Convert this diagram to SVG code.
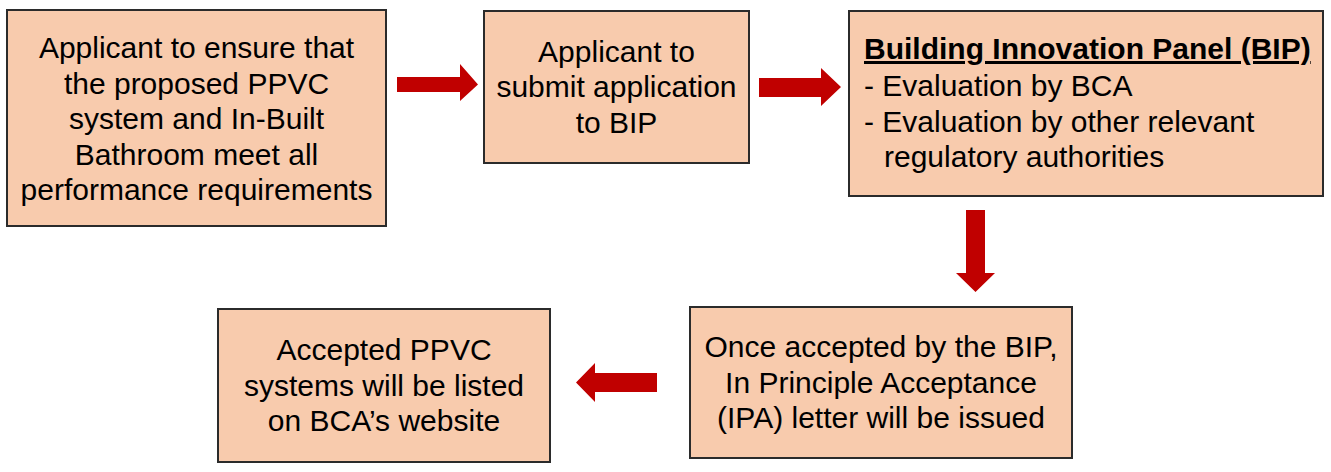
<svg xmlns="http://www.w3.org/2000/svg" width="1331" height="472" viewBox="0 0 1331 472">
<style>
.box{fill:#F8CBAD;stroke:#2b2b2b;stroke-width:2}
.t{font-family:"Liberation Sans",Arial,sans-serif;font-size:30px;fill:#000}
.c{text-anchor:middle}
.b{font-weight:bold;text-decoration:underline}
.arr{fill:#C00000}
</style>
<rect width="1331" height="472" fill="#fff"/>
<g id="connectors">
<polygon class="arr" points="397,77 460,77 460,64 478,84.5 460,101 460,92 397,92"/>
<polygon class="arr" points="759,78 821,78 821,68 841,87 821,106 821,97 759,97"/>
<polygon class="arr" points="966,210 985,210 985,273 995,273 975.5,292 956,273 966,273"/>
<polygon class="arr" points="657,373 595,373 595,363 576,382.5 595,402 595,392 657,392"/>
</g>
<g id="node1">
<rect class="box" x="7" y="10" width="379" height="216"/>
<text class="t c" x="196.5" y="58">Applicant to ensure that</text>
<text class="t c" x="196.5" y="94">the proposed PPVC</text>
<text class="t c" x="196.5" y="129">system and In-Built</text>
<text class="t c" x="196.5" y="165">Bathroom meet all</text>
<text class="t c" x="196.5" y="200">performance requirements</text>
</g>
<g id="node2">
<rect class="box" x="484" y="11" width="265" height="152"/>
<text class="t c" x="616.5" y="62">Applicant to</text>
<text class="t c" x="616.5" y="97">submit application</text>
<text class="t c" x="616.5" y="133">to BIP</text>
</g>
<g id="node3">
<rect class="box" x="849" y="11" width="474" height="185"/>
<text class="t b" x="864" y="59">Building Innovation Panel (BIP)</text>
<text class="t" x="864" y="96">- Evaluation by BCA</text>
<text class="t" x="864" y="132">- Evaluation by other relevant</text>
<text class="t" x="884" y="167">regulatory authorities</text>
</g>
<g id="node4">
<rect class="box" x="218" y="309" width="332" height="153"/>
<text class="t c" x="384" y="360">Accepted PPVC</text>
<text class="t c" x="384" y="396">systems will be listed</text>
<text class="t c" x="384" y="431">on BCA’s website</text>
</g>
<g id="node5">
<rect class="box" x="690" y="307" width="382" height="151"/>
<text class="t c" x="881" y="357">Once accepted by the BIP,</text>
<text class="t c" x="881" y="393">In Principle Acceptance</text>
<text class="t c" x="881" y="428">(IPA) letter will be issued</text>
</g>
</svg>
